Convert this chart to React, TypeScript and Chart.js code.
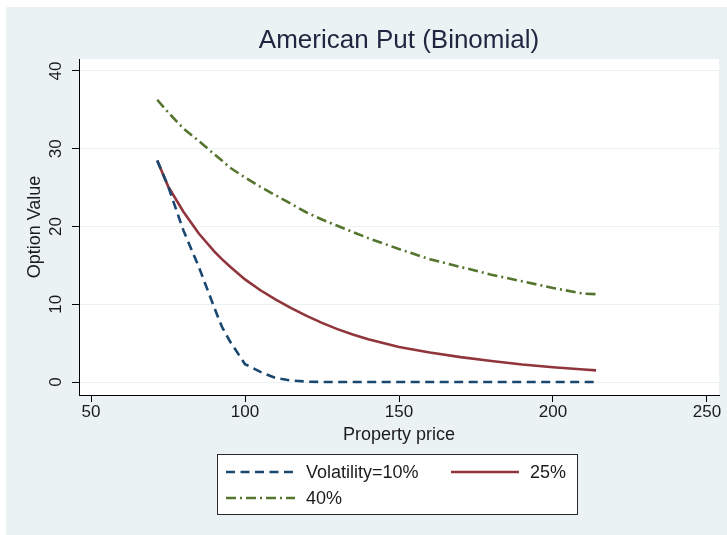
import React, { useEffect, useRef } from "react";
import { Chart, registerables } from "chart.js";

Chart.register(...registerables);

// Property price grid and option values per volatility level
const price = [71.5, 75, 80, 85, 90, 92.5, 95, 100, 105, 110, 115, 120, 125, 130, 135, 140, 150, 160, 170, 180, 190, 200, 210, 214];
const vol10 = [28.5, 25.2, 19.5, 14.8, 9.6, 7.1, 5.3, 2.3, 1.3, 0.5, 0.2, 0.05, 0, 0, 0, 0, 0, 0, 0, 0, 0, 0, 0, 0];
const vol25 = [28.5, 25.2, 21.9, 19.1, 16.8, 15.8, 14.9, 13.2, 11.8, 10.6, 9.5, 8.5, 7.6, 6.8, 6.1, 5.5, 4.5, 3.8, 3.2, 2.7, 2.25, 1.9, 1.6, 1.5];
const vol40 = [36.3, 34.7, 32.6, 31.0, 29.3, 28.5, 27.6, 26.3, 25.1, 24.0, 22.9, 21.8, 20.9, 20.1, 19.3, 18.5, 17.1, 15.8, 14.8, 13.8, 12.95, 12.1, 11.35, 11.3];

const xTicks = [50, 100, 150, 200, 250];
const yTicks = [0, 10, 20, 30, 40];
const seriesLabels = ["Volatility=10%", "25%", "40%"];

const FONT = "'Liberation Sans', Arial, sans-serif";
const TEXT = "#1b1b1b";
const BG = "#eaf2f3";

const toPoints = (ys: number[]) => price.map((x, i) => ({ x, y: ys[i] }));

const decorPlugin = {
  id: "decor",
  beforeDraw(chart: any) {
    const { ctx, chartArea, width, height } = chart;
    ctx.save();
    ctx.fillStyle = BG;
    ctx.fillRect(0, 0, width, height);
    ctx.fillStyle = "#ffffff";
    ctx.fillRect(chartArea.left, chartArea.top, chartArea.right - chartArea.left, chartArea.bottom - chartArea.top);
    ctx.restore();
  },
  afterDraw(chart: any) {
    const { ctx } = chart;
    const yScale = chart.scales.y;
    ctx.save();
    // vertical y tick labels
    ctx.fillStyle = TEXT;
    ctx.font = `17px ${FONT}`;
    ctx.textAlign = "center";
    ctx.textBaseline = "middle";
    yScale.ticks.forEach((t: any) => {
      const py = yScale.getPixelForValue(t.value);
      ctx.save();
      ctx.translate(50, py);
      ctx.rotate(-Math.PI / 2);
      ctx.fillText(String(t.value), 0, 0);
      ctx.restore();
    });

    // legend box
    const bx = 211, by = 447, bw = 360, bh = 60;
    ctx.fillStyle = "#ffffff";
    ctx.fillRect(bx, by, bw, bh);
    ctx.strokeStyle = "#2a2a2a";
    ctx.lineWidth = 1;
    ctx.strokeRect(bx + 0.5, by + 0.5, bw, bh);

    const items = [
      { ds: 0, x0: 220, x1: 289, tx: 300, ty: 465 },
      { ds: 1, x0: 445, x1: 513, tx: 524, ty: 465 },
      { ds: 2, x0: 220, x1: 289, tx: 300, ty: 491 },
    ];
    items.forEach((it) => {
      const ds = chart.data.datasets[it.ds];
      ctx.save();
      ctx.strokeStyle = ds.borderColor;
      ctx.lineWidth = ds.borderWidth;
      ctx.setLineDash(ds.borderDash || []);
      ctx.beginPath();
      ctx.moveTo(it.x0, it.ty);
      ctx.lineTo(it.x1, it.ty);
      ctx.stroke();
      ctx.restore();
      ctx.fillStyle = TEXT;
      ctx.font = `18px ${FONT}`;
      ctx.textAlign = "left";
      ctx.textBaseline = "middle";
      ctx.fillText(ds.label, it.tx, it.ty + 1);
    });
    ctx.restore();
  },
};

export default function App() {
  const canvasRef = useRef<HTMLCanvasElement | null>(null);

  useEffect(() => {
    if (!canvasRef.current) return;
    const chart = new Chart(canvasRef.current, {
      type: "line",
      data: {
        datasets: [
          {
            label: seriesLabels[0],
            data: toPoints(vol10),
            borderColor: "#1a476f",
            borderWidth: 2.6,
            borderDash: [9, 5.5],
            pointRadius: 0,
            tension: 0,
          },
          {
            label: seriesLabels[1],
            data: toPoints(vol25),
            borderColor: "#90353b",
            borderWidth: 2.6,
            pointRadius: 0,
            tension: 0,
          },
          {
            label: seriesLabels[2],
            data: toPoints(vol40),
            borderColor: "#55752f",
            borderWidth: 2.6,
            borderDash: [10, 4, 2, 4],
            pointRadius: 0,
            tension: 0,
          },
        ],
      },
      options: {
        animation: false,
        responsive: false,
        devicePixelRatio: 1,
        layout: { padding: { top: 18.4, left: 18, right: 8, bottom: 89 } },
        plugins: {
          legend: { display: false },
          tooltip: { enabled: false },
          title: {
            display: true,
            fullSize: false,
            text: "American Put (Binomial)",
            color: "#1e2640",
            font: { family: FONT, size: 26, weight: "normal" },
            padding: { top: 0, bottom: 2.4 },
          },
        },
        scales: {
          x: {
            type: "linear",
            min: 46.1,
            max: 253.9,
            afterBuildTicks: (s: any) => {
              s.ticks = xTicks.map((v) => ({ value: v }));
            },
            afterFit: (s: any) => {
              s.height = 51;
            },
            ticks: {
              color: TEXT,
              font: { family: FONT, size: 17 },
              padding: 0,
              maxRotation: 0,
              autoSkip: false,
            },
            grid: {
              drawOnChartArea: false,
              tickLength: 7,
              tickColor: "#000",
            },
            border: { display: true, color: "#000", width: 1 },
            title: {
              display: true,
              text: "Property price",
              color: TEXT,
              font: { family: FONT, size: 18 },
              padding: 0,
            },
          },
          y: {
            type: "linear",
            min: -1.67,
            max: 41.54,
            afterBuildTicks: (s: any) => {
              s.ticks = yTicks.map((v) => ({ value: v }));
            },
            afterFit: (s: any) => {
              s.width = 55;
            },
            ticks: { display: false },
            grid: {
              color: BG,
              lineWidth: 1,
              tickLength: 7,
              tickColor: "#000",
            },
            border: { display: true, color: "#000", width: 1 },
            title: {
              display: true,
              text: "Option Value",
              color: TEXT,
              font: { family: FONT, size: 18 },
              padding: 0,
            },
          },
        },
      },
      plugins: [decorPlugin],
    });
    return () => chart.destroy();
  }, []);

  return (
    <div style={{ position: "fixed", left: 6, top: 7, width: 721, height: 528 }}>
      <canvas ref={canvasRef} width={721} height={528} />
    </div>
  );
}
